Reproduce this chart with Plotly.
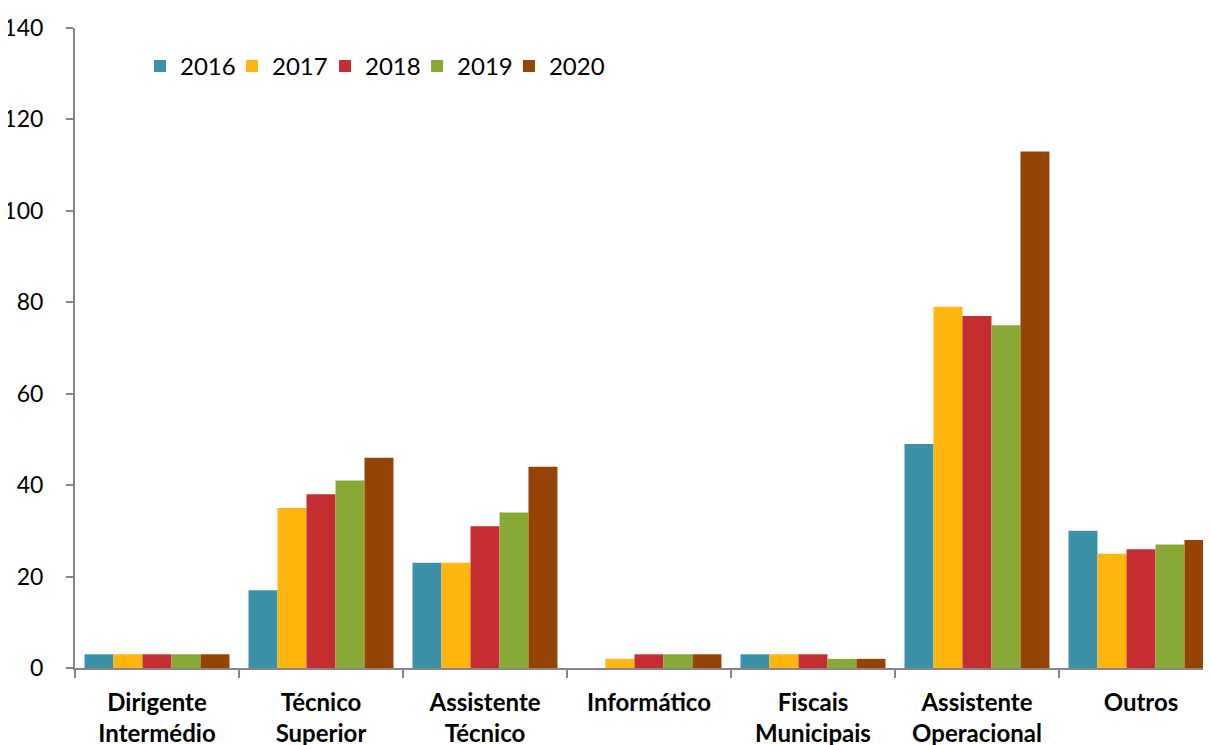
import plotly.graph_objects as go

categories = ["Dirigente<br>Intermédio", "Técnico<br>Superior", "Assistente<br>Técnico",
              "Informático", "Fiscais<br>Municipais", "Assistente<br>Operacional", "Outros"]
years = ["2016", "2017", "2018", "2019", "2020"]
v2016 = [3, 17, 23, 0, 3, 49, 30]
v2017 = [3, 35, 23, 2, 3, 79, 25]
v2018 = [3, 38, 31, 3, 3, 77, 26]
v2019 = [3, 41, 34, 3, 2, 75, 27]
v2020 = [3, 46, 44, 3, 2, 113, 28]
series = [v2016, v2017, v2018, v2019, v2020]
colors = ["#3A91A8", "#FFB60F", "#C42E32", "#86AA35", "#964306"]

# legend entry positions (paper x) so the entries sit in a tight row
legend_x = [0.0572, 0.1382, 0.2201, 0.3011, 0.3820]
legend_ids = ["legend", "legend2", "legend3", "legend4", "legend5"]

fig = go.Figure()
for name, vals, col, lid in zip(years, series, colors, legend_ids):
    fig.add_trace(go.Bar(name=name, x=categories, y=vals, marker_color=col,
                         marker_line_width=0, legend=lid))

FONT = "Lato, Open Sans, sans-serif"
leg_common = dict(orientation="h", y=0.94, xanchor="left", yanchor="middle",
                  font=dict(size=24), itemwidth=30, tracegroupgap=0,
                  bgcolor="rgba(0,0,0,0)")
legends = {lid: dict(x=lx, **leg_common) for lid, lx in zip(legend_ids, legend_x)}

fig.update_layout(
    width=1203, height=737,
    margin=dict(l=67, r=0, t=20, b=77),
    paper_bgcolor="white", plot_bgcolor="white",
    barmode="group", bargap=0.116, bargroupgap=0,
    font=dict(family=FONT, size=22, color="black"),
    showlegend=True,
    **legends,
)
fig.update_xaxes(
    type="category", range=[-0.5, 6.427], automargin=False,
    showline=True, linecolor="#868686", linewidth=2,
    ticks="outside", tickson="boundaries", ticklen=8, tickcolor="#868686", tickwidth=2,
    tickfont=dict(size=24, family=FONT, weight="bold"),
    showgrid=False, zeroline=False, ticklabelstandoff=12,
)
fig.update_yaxes(
    range=[0, 140], dtick=20, tick0=0, automargin=False,
    showline=True, linecolor="#868686", linewidth=2,
    ticks="outside", ticklen=7, tickcolor="#868686", tickwidth=2,
    tickfont=dict(size=23), showgrid=False, zeroline=False, ticklabelstandoff=18,
)

fig.write_html("out.html")
